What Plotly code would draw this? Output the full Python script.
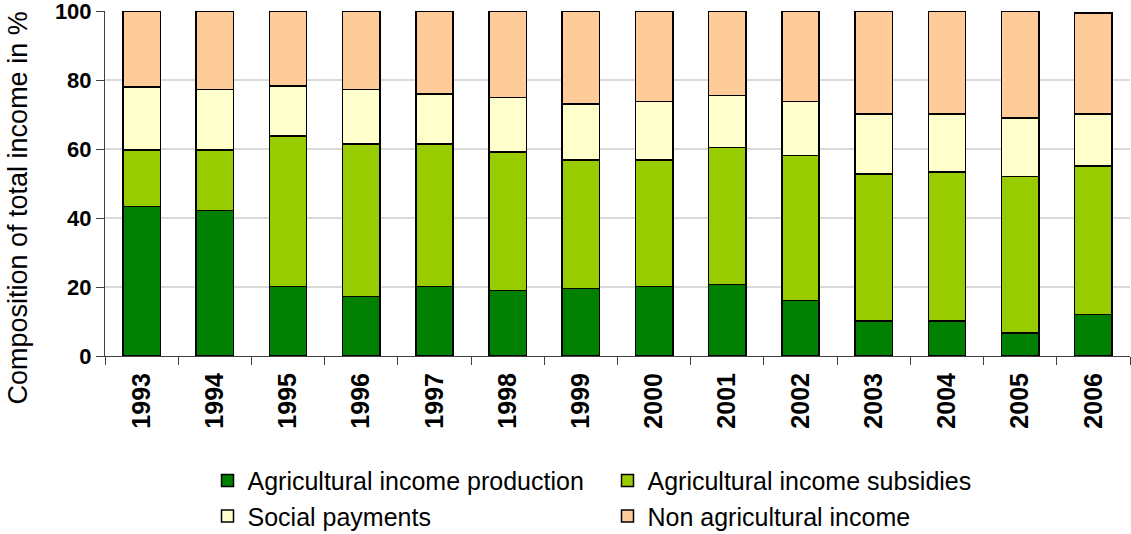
import plotly.graph_objects as go

years = ["1993", "1994", "1995", "1996", "1997", "1998", "1999",
         "2000", "2001", "2002", "2003", "2004", "2005", "2006"]
production = [43.4, 42.2, 20.2, 17.3, 20.2, 19.0, 19.6, 20.2, 20.7, 16.1, 10.2, 10.2, 6.7, 12.0]
subsidies = [16.3, 17.5, 43.6, 44.2, 41.3, 40.2, 37.2, 36.6, 39.7, 42.0, 42.6, 43.1, 45.4, 43.1]
social = [18.2, 17.6, 14.5, 15.8, 14.5, 15.7, 16.3, 17.0, 15.1, 15.7, 17.4, 16.9, 16.9, 15.1]
non_agri = [22.1, 22.7, 21.7, 22.7, 24.0, 25.1, 26.9, 26.2, 24.5, 26.2, 29.8, 29.8, 31.0, 29.2]

series = [
    ("Agricultural income production", production, "#008000"),
    ("Agricultural income subsidies", subsidies, "#99cc00"),
    ("Social payments", social, "#ffffcc"),
    ("Non agricultural income", non_agri, "#ffcc99"),
]

FONT = "Liberation Sans, Arial, sans-serif"

fig = go.Figure()
for name, vals, col in series:
    fig.add_trace(go.Bar(
        x=years, y=vals, name=name,
        marker=dict(color=col, line=dict(color="black", width=1.5)),
    ))

fig.update_layout(
    barmode="stack",
    bargap=0.49,
    width=1131, height=534,
    margin=dict(l=105, r=1, t=11, b=178, autoexpand=False),
    paper_bgcolor="white",
    plot_bgcolor="white",
    font=dict(family=FONT, color="black"),
    showlegend=True,
    legend=dict(
        orientation="h",
        traceorder="normal",
        entrywidth=355,
        entrywidthmode="pixels",
        x=0.1, xanchor="left",
        y=-0.295, yanchor="top",
        font=dict(family=FONT, size=25, color="black"),
        bgcolor="rgba(0,0,0,0)",
    ),
    xaxis=dict(
        type="category",
        tickangle=-90,
        tickfont=dict(family=FONT, size=25, color="black", weight="bold"),
        ticklabelstandoff=6,
        showline=True, linecolor="#404040", linewidth=1,
        ticks="outside", ticklen=8, tickcolor="#404040",
        tickson="boundaries",
        showgrid=False,
        automargin=False,
    ),
    yaxis=dict(
        range=[0, 100],
        tickvals=[0, 20, 40, 60, 80, 100],
        tickfont=dict(family=FONT, size=22, color="black", weight="bold"),
        ticklabeloverflow="allow",
        showline=True, linecolor="#404040", linewidth=1,
        ticks="outside", ticklen=8, tickcolor="#404040",
        showgrid=True, gridcolor="#d9d9d9", gridwidth=1.5,
        zeroline=False,
        automargin=False,
    ),
    annotations=[dict(
        text="Composition of total income in %",
        xref="paper", yref="paper",
        x=-0.085, y=0.43,
        xanchor="center", yanchor="middle",
        textangle=-90, showarrow=False,
        font=dict(family=FONT, size=27, color="black"),
    )],
)

fig.write_html(
    "out.html",
    config={"displayModeBar": False},
    post_script="document.body.style.margin='0';document.body.style.overflow='hidden';",
)
